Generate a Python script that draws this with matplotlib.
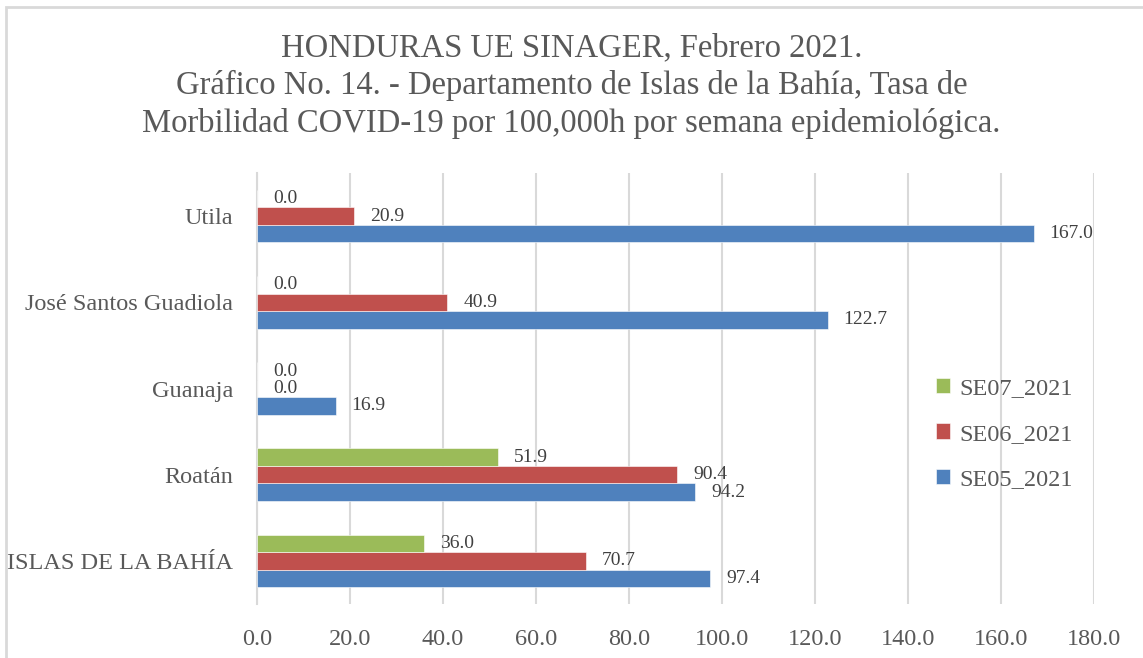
import numpy as np
import matplotlib.pyplot as plt
from matplotlib.patches import Rectangle

plt.rcParams['font.family'] = ['Liberation Serif', 'DejaVu Serif']

# Data (bottom to top as drawn)
categories = ['ISLAS DE LA BAHÍA', 'Roatán', 'Guanaja', 'José Santos Guadiola', 'Utila']
se05 = [97.4, 94.2, 16.9, 122.7, 167.0]
se06 = [70.7, 90.4, 0.0, 40.9, 20.9]
se07 = [36.0, 51.9, 0.0, 0.0, 0.0]
xticks = [0, 20, 40, 60, 80, 100, 120, 140, 160, 180]

title = ('HONDURAS UE SINAGER, Febrero 2021.\n'
         'Gráfico No. 14. - Departamento de Islas de la Bahía, Tasa de\n'
         'Morbilidad COVID-19 por 100,000h por semana epidemiológica.')

text_col = '#595959'
grid_col = '#D9D9D9'
colors = {'SE05_2021': '#4F81BD', 'SE06_2021': '#C0504D', 'SE07_2021': '#9BBB59'}

fig = plt.figure(figsize=(11.43, 6.58), dpi=100)
ax = fig.add_axes([257 / 1143, 1 - 604 / 658, (1094 - 257) / 1143, (604 - 173) / 658])

# outer chart border
fig.patches.append(Rectangle((6 / 1143, -0.01), 1.02, 1 - 7 / 658 + 0.01,
                             transform=fig.transFigure, fill=False,
                             edgecolor=grid_col, lw=2))

y = np.arange(len(categories))
h = 0.203
series = [('SE05_2021', se05, -h), ('SE06_2021', se06, 0.0), ('SE07_2021', se07, h)]
bars = {}
for name, vals, off in series:
    b = ax.barh(y + off, vals, height=h, color=colors[name],
                edgecolor='white', linewidth=0.4, label=name, zorder=3)
    bars[name] = b
    for rect, v in zip(b, vals):
        ax.annotate(f'{v:.1f}', (rect.get_width(), rect.get_y() + h / 2),
                    xytext=(16, 0), textcoords='offset pixels',
                    va='center', ha='left', fontsize=14, color='#404040', zorder=4)

ax.set_xlim(0, 180)
ax.set_ylim(-0.5, len(categories) - 0.5)
ax.set_xticks(xticks)
ax.set_xticklabels([f'{t:.1f}' for t in xticks])
ax.set_yticks(y)
ax.set_yticklabels(categories)
ax.tick_params(axis='x', length=0, pad=18, labelsize=17.5, labelcolor=text_col)
ax.tick_params(axis='y', length=0, pad=17, labelsize=17.5, labelcolor=text_col)

ax.grid(axis='x', color=grid_col, lw=1.5, zorder=0)
for s in ['top', 'right', 'bottom']:
    ax.spines[s].set_visible(False)
ax.spines['left'].set_color(grid_col)
ax.spines['left'].set_linewidth(1.5)

handles = [bars['SE07_2021'], bars['SE06_2021'], bars['SE05_2021']]
leg = fig.legend(handles, ['SE07_2021', 'SE06_2021', 'SE05_2021'],
                 loc='center left', bbox_to_anchor=(914 / 1143, 1 - 434 / 658),
                 frameon=False, fontsize=17.5, handlelength=0.6, handleheight=0.6,
                 handletextpad=0.35, labelspacing=1.0)
for t in leg.get_texts():
    t.set_color(text_col)

fig.text(0.5, 1 - 86 / 658, title, ha='center', va='center', fontsize=23.5,
         color=text_col, linespacing=1.27)

fig.savefig('out.png', dpi=100)
plt.close()
